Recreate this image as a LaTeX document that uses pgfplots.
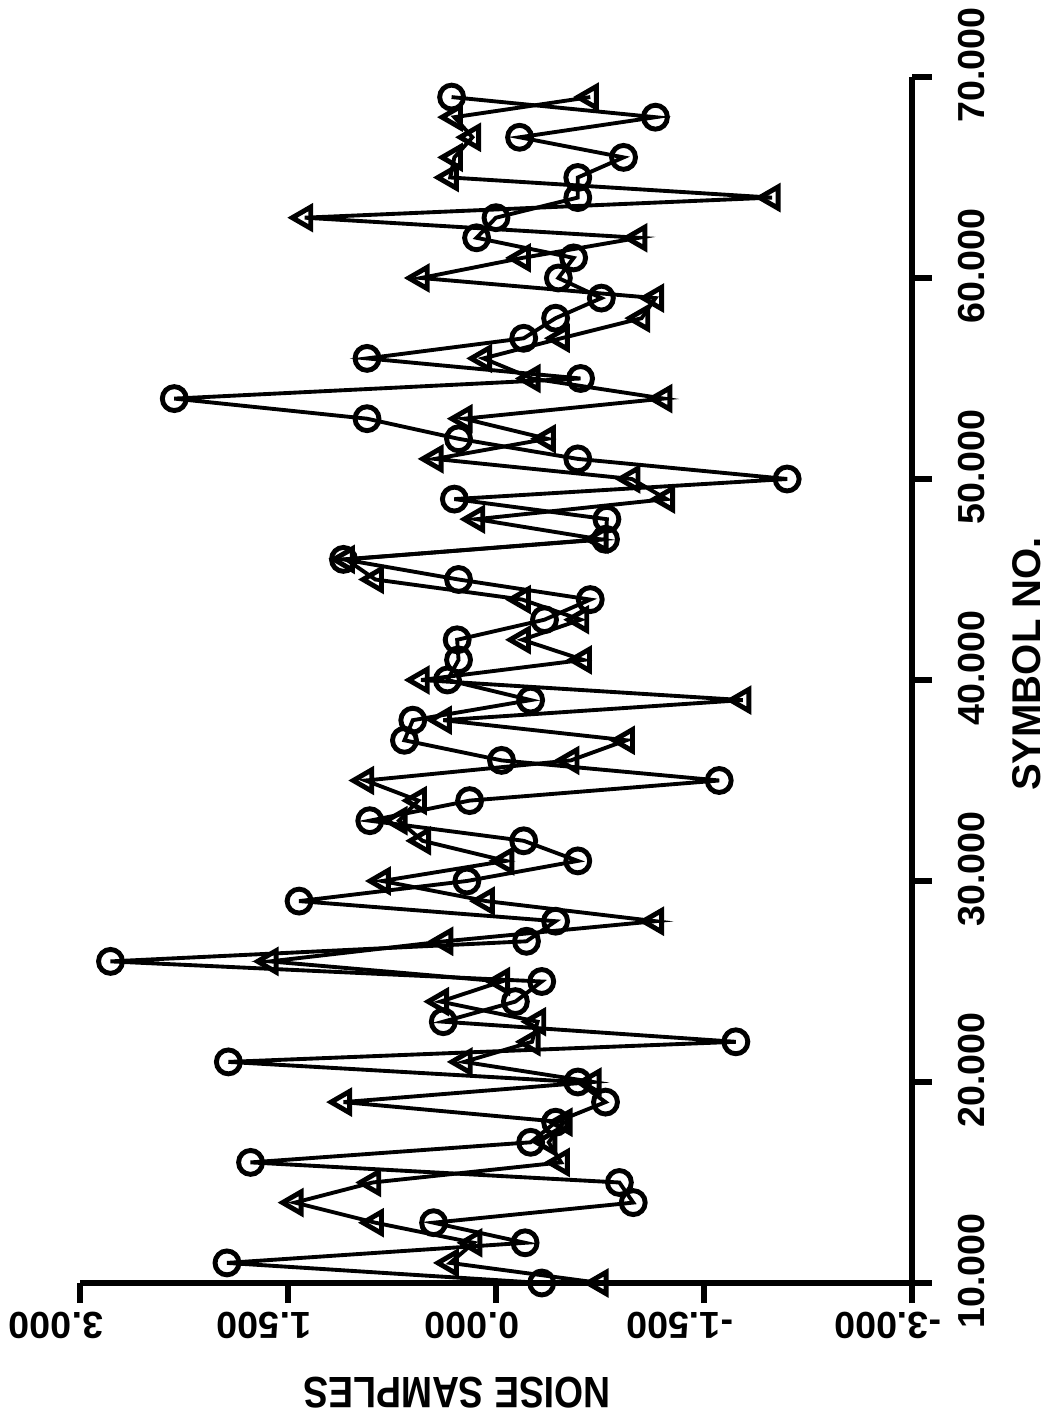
\documentclass[border=0pt]{standalone}
\usepackage{fontspec}
\setmainfont{Liberation Sans}
\usepackage{pgfplots}
\usepackage{pgfplotstable}
\pgfplotsset{compat=1.18}

% symbol number, noise sample (circles)
\pgfplotstableread{
sym val
10 -0.33
11 1.94
12 -0.21
13 0.45
14 -0.99
15 -0.89
16 1.77
17 -0.25
18 -0.43
19 -0.79
20 -0.59
21 1.93
22 -1.73
23 0.38
24 -0.14
25 -0.33
26 2.78
27 -0.22
28 -0.43
29 1.42
30 0.21
31 -0.59
32 -0.20
33 0.91
34 0.19
35 -1.61
36 -0.04
37 0.66
38 0.60
39 -0.25
40 0.35
41 0.27
42 0.28
43 -0.35
44 -0.68
45 0.27
46 1.10
47 -0.79
48 -0.80
49 0.30
50 -2.10
51 -0.59
52 0.27
53 0.93
54 2.32
55 -0.61
56 0.93
57 -0.20
58 -0.43
59 -0.76
60 -0.45
61 -0.56
62 0.14
63 0.00
64 -0.59
65 -0.59
66 -0.92
67 -0.17
68 -1.15
69 0.32
}\circdata

% symbol number, noise sample (triangles)
\pgfplotstableread{
sym val
10 -0.75
11 0.33
12 0.16
13 0.87
14 1.45
15 0.89
16 -0.47
17 -0.38
18 -0.49
19 1.10
20 -0.70
21 0.23
22 -0.26
23 -0.30
24 0.40
25 -0.04
26 1.63
27 0.37
28 -1.15
29 0.07
30 0.82
31 -0.07
32 0.53
33 0.70
34 0.56
35 0.94
36 -0.54
37 -0.94
38 0.38
39 -1.78
40 0.54
41 -0.63
42 -0.19
43 -0.61
44 -0.19
45 0.87
46 1.08
47 -0.75
48 0.14
49 -1.23
50 -0.98
51 0.44
52 -0.37
53 0.23
54 -1.21
55 -0.26
56 0.09
57 -0.47
58 -1.05
59 -1.15
60 0.54
61 -0.19
62 -1.03
63 1.38
64 -1.99
65 0.33
66 0.30
67 0.17
68 0.30
69 -0.68
}\tridata

\begin{document}
\begin{tikzpicture}
\begin{axis}[
    name=ax,
    scale only axis,
    width=83.2mm, height=120.6mm,
    xmin=-3, xmax=3, x dir=reverse,
    ymin=10, ymax=70,
    axis x line*=bottom, axis y line*=right,
    axis line style={line width=1.5pt},
    tick style={line width=1.5pt, black},
    major tick length=2mm, tick align=outside,
    xtick={-3,-1.5,0,1.5,3},
    xticklabels={-3.000,-1.500,0.000,1.500,3.000},
    ytick={10,20,30,40,50,60,70},
    yticklabels={10.000,20.000,30.000,40.000,50.000,60.000,70.000},
    ticklabel style={font=\bfseries\fontsize{10.7}{12}\selectfont},
    xticklabel style={anchor=center, xshift=-2.4mm, yshift=-2.2mm, rotate=180},
    yticklabel style={anchor=center, xshift=4.0mm, yshift=1.2mm, rotate=90},
    clip=false,
    every axis plot/.append style={black, line width=1.1pt},
]
\addplot[mark=o, mark size=3.4pt, mark options={solid, line width=1.4pt}]
    table[x=val, y=sym] {\circdata};
\addplot[mark=triangle, mark size=3.5pt, mark options={solid, rotate=90, line width=1.4pt}]
    table[x=val, y=sym] {\tridata};
\end{axis}
\node[rotate=90, font=\bfseries\fontsize{11.4}{14}\selectfont] at ([xshift=11.5mm, yshift=1.6mm]ax.east) {SYMBOL NO.};
\node[rotate=180, font=\bfseries\fontsize{12.5}{14}\selectfont, xscale=0.85] at ([xshift=-3.9mm, yshift=-11.0mm]ax.south) {NOISE SAMPLES};
\pgfresetboundingbox
\path ([xshift=-8mm, yshift=-14mm]ax.south west) rectangle ([xshift=13.8mm, yshift=7.7mm]ax.north east);
\end{tikzpicture}
\end{document}
